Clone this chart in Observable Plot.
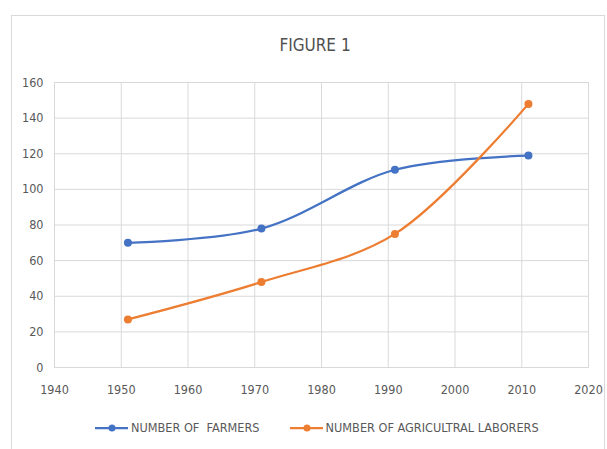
<!DOCTYPE html>
<html>
<head>
<meta charset="utf-8">
<script src="https://cdn.jsdelivr.net/npm/d3@7"></script>
<script src="https://cdn.jsdelivr.net/npm/@observablehq/plot@0.6"></script>
<style>
  html, body { margin: 0; padding: 0; background: #fff; }
  #wrap { position: relative; width: 607px; height: 449px; overflow: hidden;
          font-family: "Liberation Sans Narrow", "DejaVu Sans Condensed", "Roboto", sans-serif; }
  #frame { position: absolute; left: 11px; top: 15px; width: 594px; height: 460px;
           border: 1px solid #d9d9d9; box-sizing: border-box; }
  #chart { position: absolute; left: 0; top: 0; }
  #title { position: absolute; left: 0; width: 630px; top: 35px; text-align: center;
           font-size: 17px; font-weight: 500; color: #505050; }
  #legend { position: absolute; top: 420px; left: 95px; display: flex; gap: 30px;
            font-size: 12.6px; color: #595959; align-items: center; }
  .item { display: flex; align-items: center; gap: 2px; }
</style>
</head>
<body>
<div id="wrap">
  <div id="frame"></div>
  <div id="chart"></div>
  <div id="title">FIGURE 1</div>
  <div id="legend"></div>
</div>
<script>
// Census years and counts for each series
const years = [1951, 1971, 1991, 2011];
const farmers = [70, 78, 111, 119];
const laborers = [27, 48, 75, 148];
const seriesNames = ["NUMBER OF  FARMERS", "NUMBER OF AGRICULTRAL LABORERS"];
const seriesColors = ["#4472C4", "#ED7D31"];
const xTicks = [1940, 1950, 1960, 1970, 1980, 1990, 2000, 2010, 2020];
const yTicks = [0, 20, 40, 60, 80, 100, 120, 140, 160];

const rows = [
  ...years.map((year, i) => ({year, value: farmers[i], series: seriesNames[0]})),
  ...years.map((year, i) => ({year, value: laborers[i], series: seriesNames[1]}))
];

const chart = Plot.plot({
  width: 607,
  height: 449,
  marginLeft: 54,
  marginRight: 19,
  marginTop: 82,
  marginBottom: 82,
  style: {fontFamily: '"Liberation Sans Narrow", "DejaVu Sans Condensed", sans-serif', fontSize: "12.5px", color: "#595959", background: "transparent"},
  x: {domain: [1940, 2020], ticks: xTicks, tickFormat: d => String(d), tickSize: 0, tickPadding: 18, label: null},
  y: {domain: [0, 160], ticks: yTicks, tickSize: 0, tickPadding: 11, label: null},
  color: {domain: seriesNames, range: seriesColors},
  marks: [
    Plot.gridX(xTicks, {stroke: "#d9d9d9", strokeOpacity: 1}),
    Plot.gridY(yTicks, {stroke: "#d9d9d9", strokeOpacity: 1}),
    Plot.frame({stroke: "#d9d9d9"}),
    Plot.line(rows, {x: "year", y: "value", stroke: "series", z: "series", curve: "catmull-rom", strokeWidth: 2.25}),
    Plot.dot(rows, {x: "year", y: "value", fill: "series", r: 4})
  ]
});
document.getElementById("chart").appendChild(chart);

// Legend built from the same series names and colours
const legend = d3.select("#legend");
seriesNames.forEach((name, i) => {
  const item = legend.append("div").attr("class", "item");
  const svg = item.append("svg").attr("width", 34).attr("height", 10);
  svg.append("line").attr("x1", 0).attr("x2", 33).attr("y1", 5).attr("y2", 5)
    .attr("stroke", seriesColors[i]).attr("stroke-width", 2.25);
  svg.append("circle").attr("cx", 17).attr("cy", 5).attr("r", 3.5).attr("fill", seriesColors[i]);
  item.append("span").style("white-space", "pre").text(name);
});
</script>
</body>
</html>
